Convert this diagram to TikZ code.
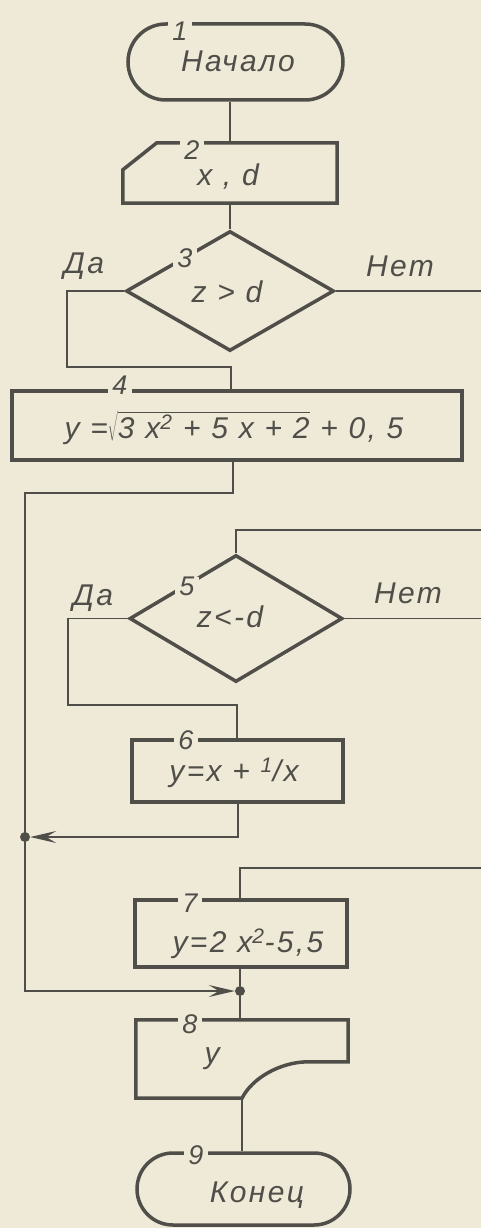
\documentclass[tikz,border=0pt]{standalone}
\usepackage{fontspec}
\setmainfont{Liberation Sans}[LetterSpace=8]
\usetikzlibrary{arrows.meta,shapes.geometric,calc}
\definecolor{bg}{RGB}{239,234,216}
\definecolor{ink}{RGB}{80,78,72}
\begin{document}
\begin{tikzpicture}[x=1pt,y=-1pt,
  blk/.style={draw=ink, line width=3.5pt, inner sep=0pt},
  conn/.style={draw=ink, line width=1.7pt},
  txt/.style={text=ink, font=\fontsize{30}{33}\selectfont\itshape, inner sep=0pt},
  num/.style={text=ink, fill=bg, font=\fontsize{27}{30}\selectfont\itshape, inner xsep=4pt, inner ysep=0pt},
  arr/.style={-{Stealth[length=26pt,width=12pt,inset=10pt]}},
  jdot/.style={circle, fill=ink, inner sep=0pt, minimum size=10pt}]
\fill[bg] (0,0) rectangle (481,1228);
\useasboundingbox (0,0) rectangle (481,1228);

% blocks
\node[blk, rounded corners=38pt, minimum width=215pt, minimum height=76pt] (n1) at (235.5,62) {};
\node[inner sep=0pt, minimum width=214pt, minimum height=60pt] (n2) at (230,173) {};
\draw[blk] ($(n2.north west)+(34,0)$) -- (n2.north east) -- (n2.south east) -- (n2.south west) -- ($(n2.north west)+(0,27)$) -- cycle;
\node[blk, diamond, minimum width=208pt, minimum height=120pt] (n3) at (230,291) {};
\node[blk, minimum width=450pt, minimum height=69pt] (n4) at (237,425.5) {};
\node[blk, diamond, minimum width=213pt, minimum height=127pt] (n5) at (236,618.5) {};
\node[blk, minimum width=211pt, minimum height=62pt] (n6) at (237.5,771) {};
\node[blk, minimum width=212pt, minimum height=67pt] (n7) at (241,933.5) {};
\node[inner sep=0pt, minimum width=212pt, minimum height=78pt] (n8) at (242,1059) {};
\draw[blk] (n8.north west) -- (n8.north east) -- ($(n8.north east)+(0,42)$) -- ($(n8.north east)+(-41,42)$)
  .. controls ($(n8.south)+(38,-36)$) and ($(n8.south)+(10,-20)$) .. (n8.south) -- (n8.south west) -- cycle;
\node[blk, rounded corners=36pt, minimum width=213pt, minimum height=72pt] (n9) at (243.5,1189) {};

% junctions
\node[jdot] (j1) at (25,837) {};
\node[jdot] (j2) at (240,991) {};

% helper coordinates
\coordinate (y3a) at (67,291);
\coordinate (y3b) at (67,367);
\coordinate (y3c) at (231,367);
\coordinate (e3) at (481,291);
\coordinate (b4) at (233,493);
\coordinate (b4l) at (25,493);
\coordinate (e5) at (481,530);
\coordinate (c5) at (236,530);
\coordinate (y5a) at (68,618.5);
\coordinate (y5b) at (68,705);
\coordinate (y5c) at (237,705);
\coordinate (e5r) at (481,618.5);
\coordinate (c6) at (238,837);
\coordinate (e7) at (481,868);
\coordinate (c7) at (240,868);

% connectors
\draw[conn] (n1.south -| n2.north) -- (n2.north);
\draw[conn] (n2.south -| n3.north) -- (n3.north);
\draw[conn] (n3.west) -- (y3a) -- (y3b) -- (y3c) -- (y3c |- n4.north);
\draw[conn] (n3.east) -- (e3);
\draw[conn, arr] (n4.south -| b4) -- (b4) -- (b4l) -- (b4l |- j2) -- (j2);
\draw[conn] (e5) -- (c5) -- (n5.north);
\draw[conn] (n5.west) -- (y5a) -- (y5b) -- (y5c) -- (y5c |- n6.north);
\draw[conn] (n5.east) -- (e5r);
\draw[conn, arr] (n6.south -| c6) -- (c6) -- (j1);
\draw[conn] (e7) -- (c7) -- (c7 |- n7.north);
\draw[conn] (n7.south -| j2) -- (j2) -- (j2 |- n8.north);
\draw[conn] (n8.south) -- (n8.south |- n9.north);

% texts
\node[txt] (t1) at (238,61) {Начало};
\node[txt] (t2) at (228,177) {x , d};
\node[txt] (t3) at (227,292) {z > d};
\node[txt] (t4) at (234,428) {y =$\sqrt{\mbox{3 x\textsuperscript{2} + 5 x + 2}}$ + 0, 5};
\node[txt] (t5) at (230,617) {z<-d};
\node[txt] (t6) at (234,773) {y=x + \textsuperscript{1}/x};
\node[txt] (t7) at (248,944) {y=2 x\textsuperscript{2}-5,5};
\node[txt] (t8) at (212,1059) {y};
\node[txt] (t9) at (257,1195) {Конец};
\node[txt] (da3) at (84,266) {Да};
\node[txt] (net3) at (400,266) {Нет};
\node[txt] (da5) at (93,598) {Да};
\node[txt] (net5) at (408,593) {Нет};

% numbers
\node[num] (l1) at (180,31) {1};
\node[num] (l2) at (192,150) {2};
\node[num] (l3) at (185,258) {3};
\node[num] (l4) at (120,385) {4};
\node[num] (l5) at (187,586) {5};
\node[num] (l6) at (186,740) {6};
\node[num] (l7) at (190,903) {7};
\node[num] (l8) at (190,1024) {8};
\node[num] (l9) at (196,1155) {9};
\end{tikzpicture}
\end{document}
